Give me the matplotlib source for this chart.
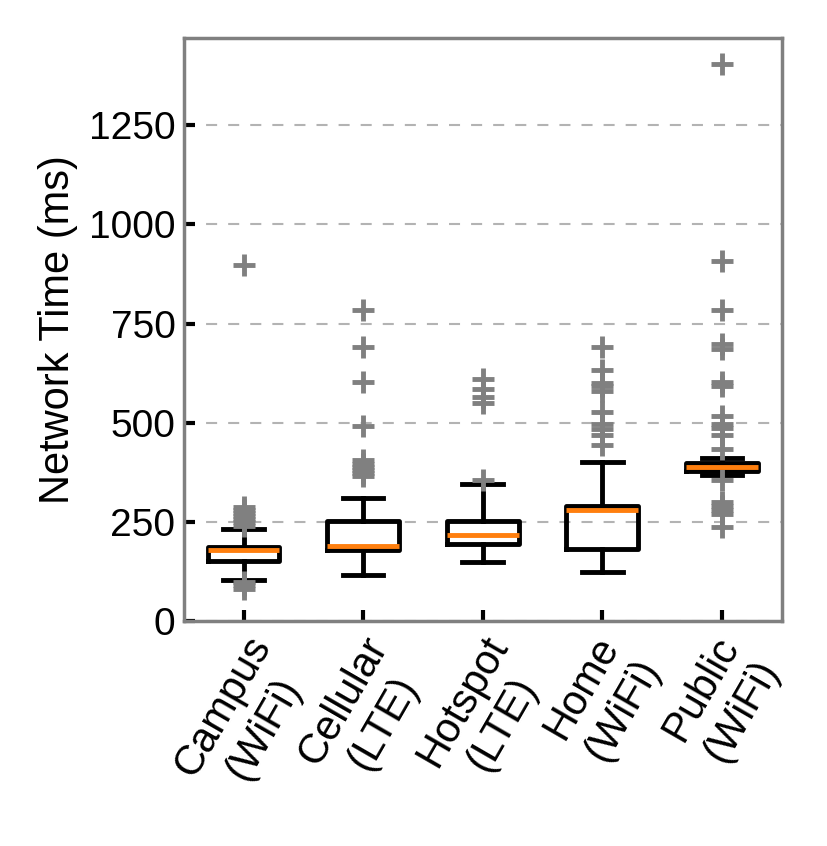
import matplotlib.pyplot as plt

plt.rcParams['font.family'] = ['Liberation Sans', 'DejaVu Sans']

# Box statistics (ms)
labels = ['Campus\n(WiFi)', 'Cellular\n(LTE)', 'Hotspot\n(LTE)', 'Home\n(WiFi)', 'Public\n(WiFi)']
whislo = [103, 117, 149, 123, 368]
q1 = [151, 180, 193, 182, 377]
med = [180, 188, 218, 279, 388]
q3 = [187, 253, 253, 291, 399]
whishi = [232, 311, 346, 400, 410]
fliers = [
    [80, 90, 98, 240, 250, 258, 265, 272, 280, 287, 897],
    [365, 372, 380, 388, 395, 405, 491, 602, 690, 784],
    [355, 550, 566, 585, 610],
    [445, 470, 485, 497, 526, 579, 593, 600, 632, 692],
    [236, 270, 279, 289, 300, 356, 434, 470, 487, 497, 516, 593, 603, 685, 699, 783, 909, 1405],
]

stats = []
for i in range(len(labels)):
    stats.append({'label': labels[i], 'whislo': whislo[i], 'q1': q1[i], 'med': med[i],
                  'q3': q3[i], 'whishi': whishi[i], 'fliers': fliers[i]})

fig = plt.figure(figsize=(8.28, 8.46), dpi=100)
ax = fig.add_axes([0.222, 0.266, 0.722, 0.689])

ax.bxp(stats, widths=0.6, capwidths=0.34,
       boxprops=dict(color='black', linewidth=3.5),
       whiskerprops=dict(color='black', linewidth=3.5),
       capprops=dict(color='black', linewidth=3.5),
       medianprops=dict(color='#ff7f0e', linewidth=3.5),
       flierprops=dict(marker='+', markersize=16, markeredgewidth=3.5,
                       markeredgecolor='gray', linestyle='none'))

ax.set_ylim(0, 1470)
ax.set_xlim(0.5, 5.5)
ax.set_yticks([0, 250, 500, 750, 1000, 1250])
ax.yaxis.grid(True, color='#b3b3b3', linewidth=1.5, linestyle=(0, (5.3, 5.3)))
ax.set_axisbelow(True)

ax.set_ylabel('Network Time (ms)', fontsize=30, labelpad=8)
ax.tick_params(axis='both', direction='in', length=8, width=3, labelsize=28, pad=6)
ax.tick_params(axis='x', labelsize=30)
plt.setp(ax.get_xticklabels(), rotation=60, ha='center', ma='center')

for s in ax.spines.values():
    s.set_color('gray')
    s.set_linewidth(2.5)

fig.savefig('out.png', dpi=100)
